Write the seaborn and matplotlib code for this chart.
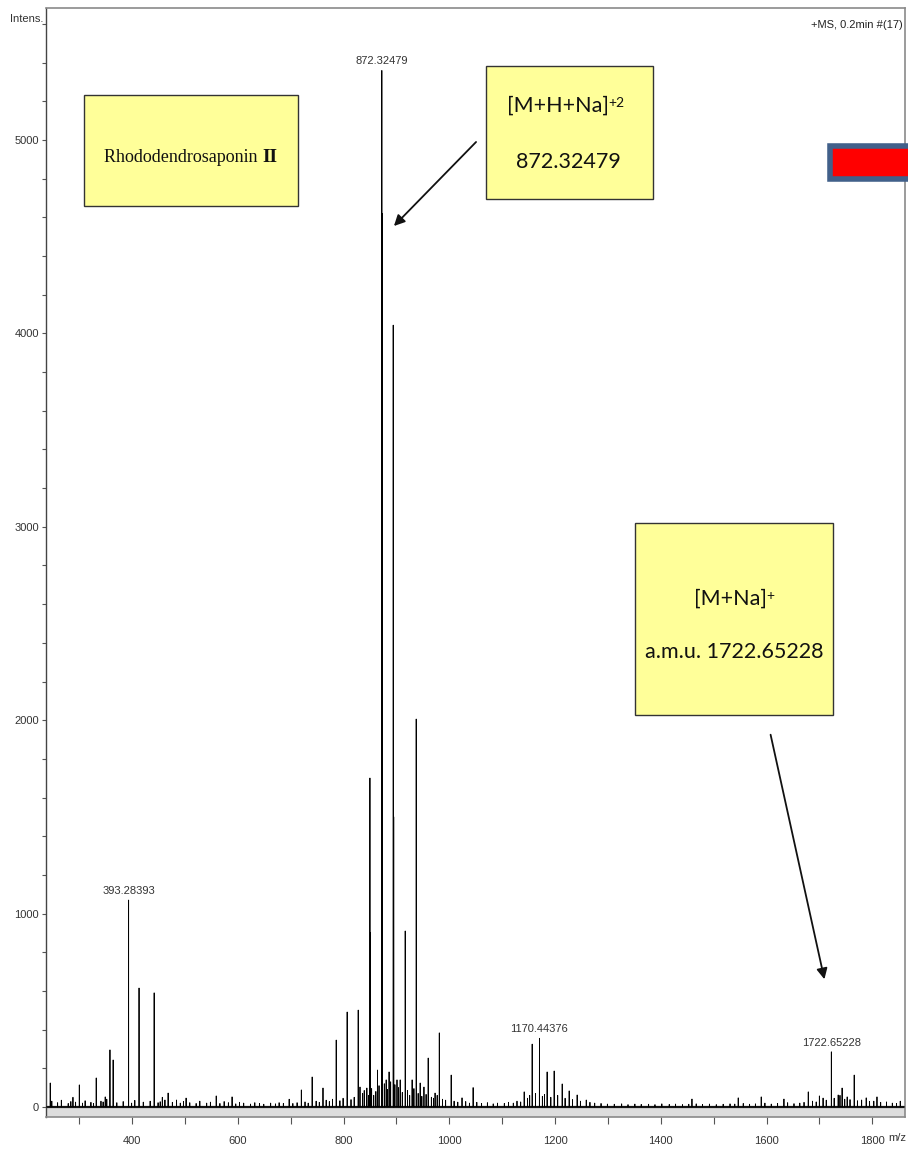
import numpy as np
import pandas as pd
import matplotlib
matplotlib.use("Agg")
import matplotlib.pyplot as plt
from matplotlib.patches import Rectangle, FancyArrowPatch
from matplotlib.ticker import MultipleLocator
import seaborn as sns

# ---- spectrum data (m/z, intensity) ----
peak_mz = [245, 288, 300, 332, 349, 358, 364, 393.28393, 413, 441.6, 457, 468, 484,
           502, 559, 589, 697, 720, 740.5, 761, 786, 806.7, 827.6, 831, 844,
           849.8, 850.8, 857, 864, 872.32479, 872.82, 873.32, 880.5, 886,
           893.8, 894.3, 894.8, 901, 907, 916.5, 917.0, 929.6, 937.3, 937.8,
           944.8, 952, 960, 973, 981, 1003.5, 1024, 1045, 1141.6, 1156.7,
           1170.44376, 1185, 1198.3, 1213.5, 1226.7, 1241.8, 1259, 1459, 1546.5,
           1590, 1633, 1679, 1700, 1707, 1722.65228, 1735.6, 1743, 1752.6,
           1765.9, 1788.6, 1809, 1853]
peak_int = [124, 50, 114, 150, 52, 295, 243, 1070, 615, 590, 50, 72, 36,
            46, 57, 52, 40, 88, 155, 98, 346, 491, 501, 103, 98,
            1701, 900, 60, 191, 5360, 4620, 2300, 140, 181,
            4043, 3200, 1500, 140, 140, 910, 500, 140, 2006, 1200,
            124, 103, 253, 72, 383, 165, 47, 100, 78, 325,
            355, 181, 186, 119, 83, 62, 36, 41, 47,
            52, 41, 78, 57, 46, 285, 62, 98, 52,
            165, 47, 52, 30]

# low-level baseline signal
noise_mz = [248, 259, 266, 279, 284, 293, 306, 311, 322, 327, 341, 345, 352, 371, 383,
            399, 405, 421, 434, 449, 453, 462, 476, 491, 497, 509, 521, 528, 541, 548,
            566, 574, 582, 596, 603, 611, 624, 632, 641, 649, 662, 671, 678, 686,
            704, 712, 727, 733, 748, 754, 767, 773, 779, 793, 799, 814, 820, 836, 839,
            847, 853, 861, 867, 877, 883, 889, 897, 904, 911, 921, 925, 933, 941, 948,
            956, 966, 970, 977, 987, 993, 1009, 1016, 1031, 1038, 1052, 1061, 1072, 1083,
            1091, 1104, 1112, 1121, 1128, 1135,
            1148, 1152, 1163, 1176, 1180, 1192, 1205, 1219, 1233, 1248, 1266, 1275, 1287,
            1299, 1312, 1326, 1338, 1351, 1363, 1377, 1389, 1402, 1416, 1428, 1441, 1453,
            1467, 1479, 1492, 1505, 1518, 1531, 1540, 1556, 1568, 1579, 1597, 1609, 1621,
            1640, 1652, 1663, 1671, 1687, 1694, 1713, 1728, 1739, 1748, 1758, 1772, 1780,
            1795, 1803, 1816, 1827, 1838, 1846]
noise_int = [30, 22, 35, 18, 28, 25, 20, 32, 24, 18, 30, 26, 40, 22, 28,
             20, 34, 25, 30, 22, 27, 36, 24, 20, 28, 22, 18, 30, 20, 25,
             18, 28, 22, 16, 24, 20, 15, 22, 18, 14, 20, 16, 22, 18,
             18, 22, 26, 20, 30, 24, 35, 28, 40, 32, 45, 38, 50, 70, 85,
             60, 95, 80, 110, 120, 90, 130, 115, 100, 75, 85, 60, 95, 70, 55,
             65, 50, 45, 60, 40, 35, 30, 25, 28, 20, 24, 18, 22, 16,
             20, 18, 24, 20, 30, 26,
             45, 60, 70, 55, 65, 50, 60, 45, 38, 30, 24, 20, 18,
             15, 14, 16, 12, 15, 13, 14, 12, 16, 13, 15, 12, 14,
             16, 13, 15, 12, 14, 16, 15, 18, 14, 16, 20, 15, 18,
             22, 17, 20, 24, 30, 26, 35, 45, 60, 40, 38, 32, 36,
             28, 30, 24, 26, 20, 18]

labelled_mz = [393.28393, 872.32479, 1170.44376, 1722.65228]
labelled_text = ["393.28393", "872.32479", "1170.44376", "1722.65228"]

x_ticks = [400, 600, 800, 1000, 1200, 1400, 1600, 1800]
y_ticks = [0, 1000, 2000, 3000, 4000, 5000]

# ---- build a stick profile from the peak lists ----
all_mz = np.array(peak_mz + noise_mz, dtype=float)
all_int = np.array(peak_int + noise_int, dtype=float)
order = np.argsort(all_mz, kind="stable")
half_w = 0.15
px, py = [237.0], [0.0]
for m, h in zip(all_mz[order], all_int[order]):
    px += [m - half_w, m, m + half_w]
    py += [0.0, h, 0.0]
px.append(1862.0)
py.append(0.0)
profile = pd.DataFrame({"mz": px, "intensity": py})

# ---- figure ----
sns.set_theme(style="ticks")
plt.rcParams["font.family"] = ["Liberation Sans", "DejaVu Sans"]
SMALL = 8.0
BOX_FONT = ["Lato", "DejaVu Sans"]
BOX_SIZE = 15.5

W, H = 908, 1163
fig = plt.figure(figsize=(W / 100, H / 100), dpi=100)
ax = fig.add_axes([46 / W, 1 - 1117 / H, (905 - 46) / W, (1117 - 8) / H])

def fx(x):
    return x / W

def fy(y):
    return 1 - y / H

ax.axhspan(-60, -8, color="#dddddd", lw=0, zorder=0)
sns.lineplot(data=profile, x="mz", y="intensity", sort=False, estimator=None,
             color="black", lw=0.6, ax=ax, zorder=3)
ax.axhline(0, color="#222222", lw=1.6, zorder=2)

ax.set_xlim(237, 1862)
ax.set_ylim(-52, 5683)
ax.set_xlabel("")
ax.set_ylabel("")

ax.set_xticks(x_ticks)
ax.set_xticklabels([str(t) for t in x_ticks])
ax.xaxis.set_minor_locator(MultipleLocator(100))
ax.set_yticks(y_ticks)
ax.set_yticklabels([str(t) for t in y_ticks])
ax.yaxis.set_minor_locator(MultipleLocator(200))

ax.tick_params(axis="x", which="both", length=5, width=0.8, color="#555555",
               direction="out", pad=9, labelsize=SMALL, labelcolor="#333333")
ax.tick_params(axis="y", which="both", length=3, width=0.8, color="#555555",
               direction="out", pad=2, labelsize=SMALL, labelcolor="#333333")

for side in ["top", "right", "bottom"]:
    ax.spines[side].set_visible(True)
    ax.spines[side].set_color("#8a8a8a")
    ax.spines[side].set_linewidth(1.2)
ax.spines["left"].set_color("#444444")
ax.spines["left"].set_linewidth(1.0)

# peak value labels
for m, txt in zip(labelled_mz, labelled_text):
    h = all_int[np.argmin(np.abs(all_mz - m))]
    ax.annotate(txt, xy=(m, h), xytext=(0, 3), textcoords="offset points",
                ha="center", va="bottom", fontsize=SMALL, color="#333333")

# header texts
fig.text(fx(43), fy(19), "Intens.", ha="right", va="center", fontsize=SMALL, color="#333333")
fig.text(fx(903), fy(25), "+MS, 0.2min #(17)", ha="right", va="center",
         fontsize=SMALL, color="#222222")
fig.text(fx(897), fy(1138), "m/z", ha="center", va="center", fontsize=SMALL, color="#333333")

# annotation boxes
box_face = "#ffff99"
def add_box(x0, y0, x1, y1, edge="#333333"):
    fig.patches.append(Rectangle((fx(x0), fy(y1)), fx(x1) - fx(x0), fy(y0) - fy(y1),
                                 transform=fig.transFigure, facecolor=box_face,
                                 edgecolor=edge, lw=1.0, zorder=5))

renderer = fig.canvas.get_renderer()

def text_with_sup(xc, yc, base, sup):
    """Centred text followed by a small superscript."""
    t = fig.text(fx(xc), fy(yc), base, ha="center", va="center", fontsize=BOX_SIZE,
                 family=BOX_FONT, color="#111111", zorder=6)
    bb = t.get_window_extent(renderer)
    fig.text((bb.x1 - 1) / W, (bb.y1 - 1) / H, sup, ha="left", va="top",
             fontsize=10, family=BOX_FONT, color="#111111", zorder=6)

add_box(84, 95, 298, 206)
fig.text(fx(262), fy(157), "Rhododendrosaponin ", ha="right", va="center",
         fontsize=13, family="Liberation Serif", color="#111111", zorder=6)
fig.text(fx(262), fy(157), "II", ha="left", va="center", fontsize=14,
         family="Liberation Serif", fontweight="bold", color="#111111", zorder=6)

add_box(486, 66, 653, 199)
text_with_sup(558, 106, "[M+H+Na]", "+2")
fig.text(fx(568), fy(162), "872.32479", ha="center", va="center", fontsize=BOX_SIZE,
         family=BOX_FONT, color="#111111", zorder=6)

add_box(635, 523, 833, 715)
text_with_sup(731, 599, "[M+Na]", "+")
fig.text(fx(734), fy(652), "a.m.u. 1722.65228", ha="center", va="center",
         fontsize=BOX_SIZE, family=BOX_FONT, color="#111111", zorder=6)

# arrows from boxes to the peaks
for (x0, y0), (x1, y1) in [((478, 140), (392, 228)), ((770, 732), (825, 982))]:
    fig.patches.append(FancyArrowPatch((fx(x0), fy(y0)), (fx(x1), fy(y1)),
                                       transform=fig.transFigure, arrowstyle="-|>",
                                       mutation_scale=16, lw=1.3, color="#111111",
                                       zorder=6))

# red marker at the right edge
fig.patches.append(Rectangle((fx(830), fy(179)), fx(920) - fx(830), fy(146) - fy(179),
                             transform=fig.transFigure, facecolor="#ff0000",
                             edgecolor="#41608a", lw=4, zorder=6))

fig.savefig("out.png", dpi=100)
